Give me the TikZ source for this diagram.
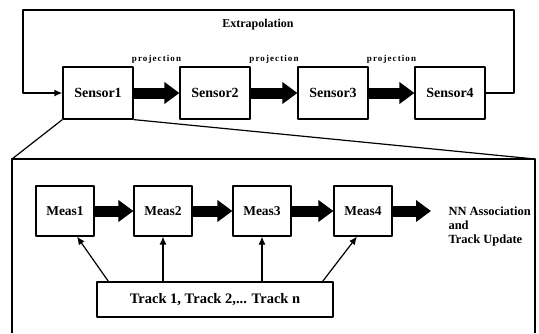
\documentclass[tikz,border=0pt]{standalone}
\usepackage{fontspec}
\setmainfont{Liberation Serif}
\newfontfamily\projfont[LetterSpace=12]{Liberation Serif}
\usetikzlibrary{arrows.meta,positioning}

\begin{document}
\begin{tikzpicture}[x=1pt, y=-1pt, line join=round,
    sensorbox/.style={draw, line width=1.2pt, minimum width=70pt, minimum height=52pt, font=\bfseries\fontsize{14}{16}\selectfont},
    measbox/.style={draw, line width=1.2pt, minimum width=58pt, minimum height=50pt, font=\bfseries\fontsize{13.5}{15}\selectfont},
    fatarrow/.style={line width=11pt, -{Triangle[length=15pt,width=21pt]}},
    thinarrow/.style={line width=1.2pt, -{Latex[length=8pt,width=7pt]}},
    proj/.style={font=\projfont\bfseries\fontsize{9}{10}\selectfont}]
    \useasboundingbox (0,0) rectangle (539,333);

    % Sensor chain
    \node[sensorbox] (s1) at (98,93) {Sensor1};
    \node[sensorbox] (s2) at (215,93) {Sensor2};
    \node[sensorbox] (s3) at (333,93) {Sensor3};
    \node[sensorbox] (s4) at (450,93) {Sensor4};
    \draw[fatarrow] (s1) -- (s2) node[midway, above=21pt, proj] {projection};
    \draw[fatarrow] (s2) -- (s3) node[midway, above=21pt, proj] {projection};
    \draw[fatarrow] (s3) -- (s4) node[midway, above=21pt, proj] {projection};

    % Extrapolation loop
    \coordinate (loopright) at (514,10);
    \coordinate (loopleft) at (23,10);
    \draw[thinarrow, line width=1.7pt] (s4.east) -| (loopright) -- (loopleft) |- (s1.west);
    \node[font=\bfseries\fontsize{12}{14}\selectfont] (extra) at (258,25) {Extrapolation};

    % Zoom into Sensor1
    \coordinate (zoomnw) at (12,159);
    \coordinate (zoomne) at (535,159);
    \draw[line width=1.2pt] (s1.south west) -- (zoomnw);
    \draw[line width=1.2pt] (s1.south east) -- (zoomne);
    \draw[line width=1.2pt] (12,333) -- (zoomnw) -- (zoomne) -- (535,333);

    % Measurements
    \node[measbox] (m1) at (65,211) {Meas1};
    \node[measbox] (m2) at (163,211) {Meas2};
    \node[measbox] (m3) at (262,211) {Meas3};
    \node[measbox] (m4) at (363,211) {Meas4};
    \draw[fatarrow] (m1) -- (m2);
    \draw[fatarrow] (m2) -- (m3);
    \draw[fatarrow] (m3) -- (m4);
    \coordinate (nntip) at (431,211);
    \draw[fatarrow] (m4) -- (nntip);
    \node[anchor=west, align=left, font=\bfseries\fontsize{12.5}{14}\selectfont] (nn) at (445,226) {NN Association\\and\\Track Update};

    % Tracks
    \node[draw, line width=1.2pt, minimum width=236pt, minimum height=35pt, font=\bfseries\fontsize{14.5}{16}\selectfont] (track) at (215,299.5) {Track 1, Track 2,... Track n};
    \draw[thinarrow] ([xshift=12pt]track.north west) -- ([xshift=12pt]m1.south);
    \draw[thinarrow] (track.north -| m2) -- (m2.south);
    \draw[thinarrow] (track.north -| m3) -- (m3.south);
    \draw[thinarrow] ([xshift=-11pt]track.north east) -- ([xshift=-6pt]m4.south);
\end{tikzpicture}
\end{document}
